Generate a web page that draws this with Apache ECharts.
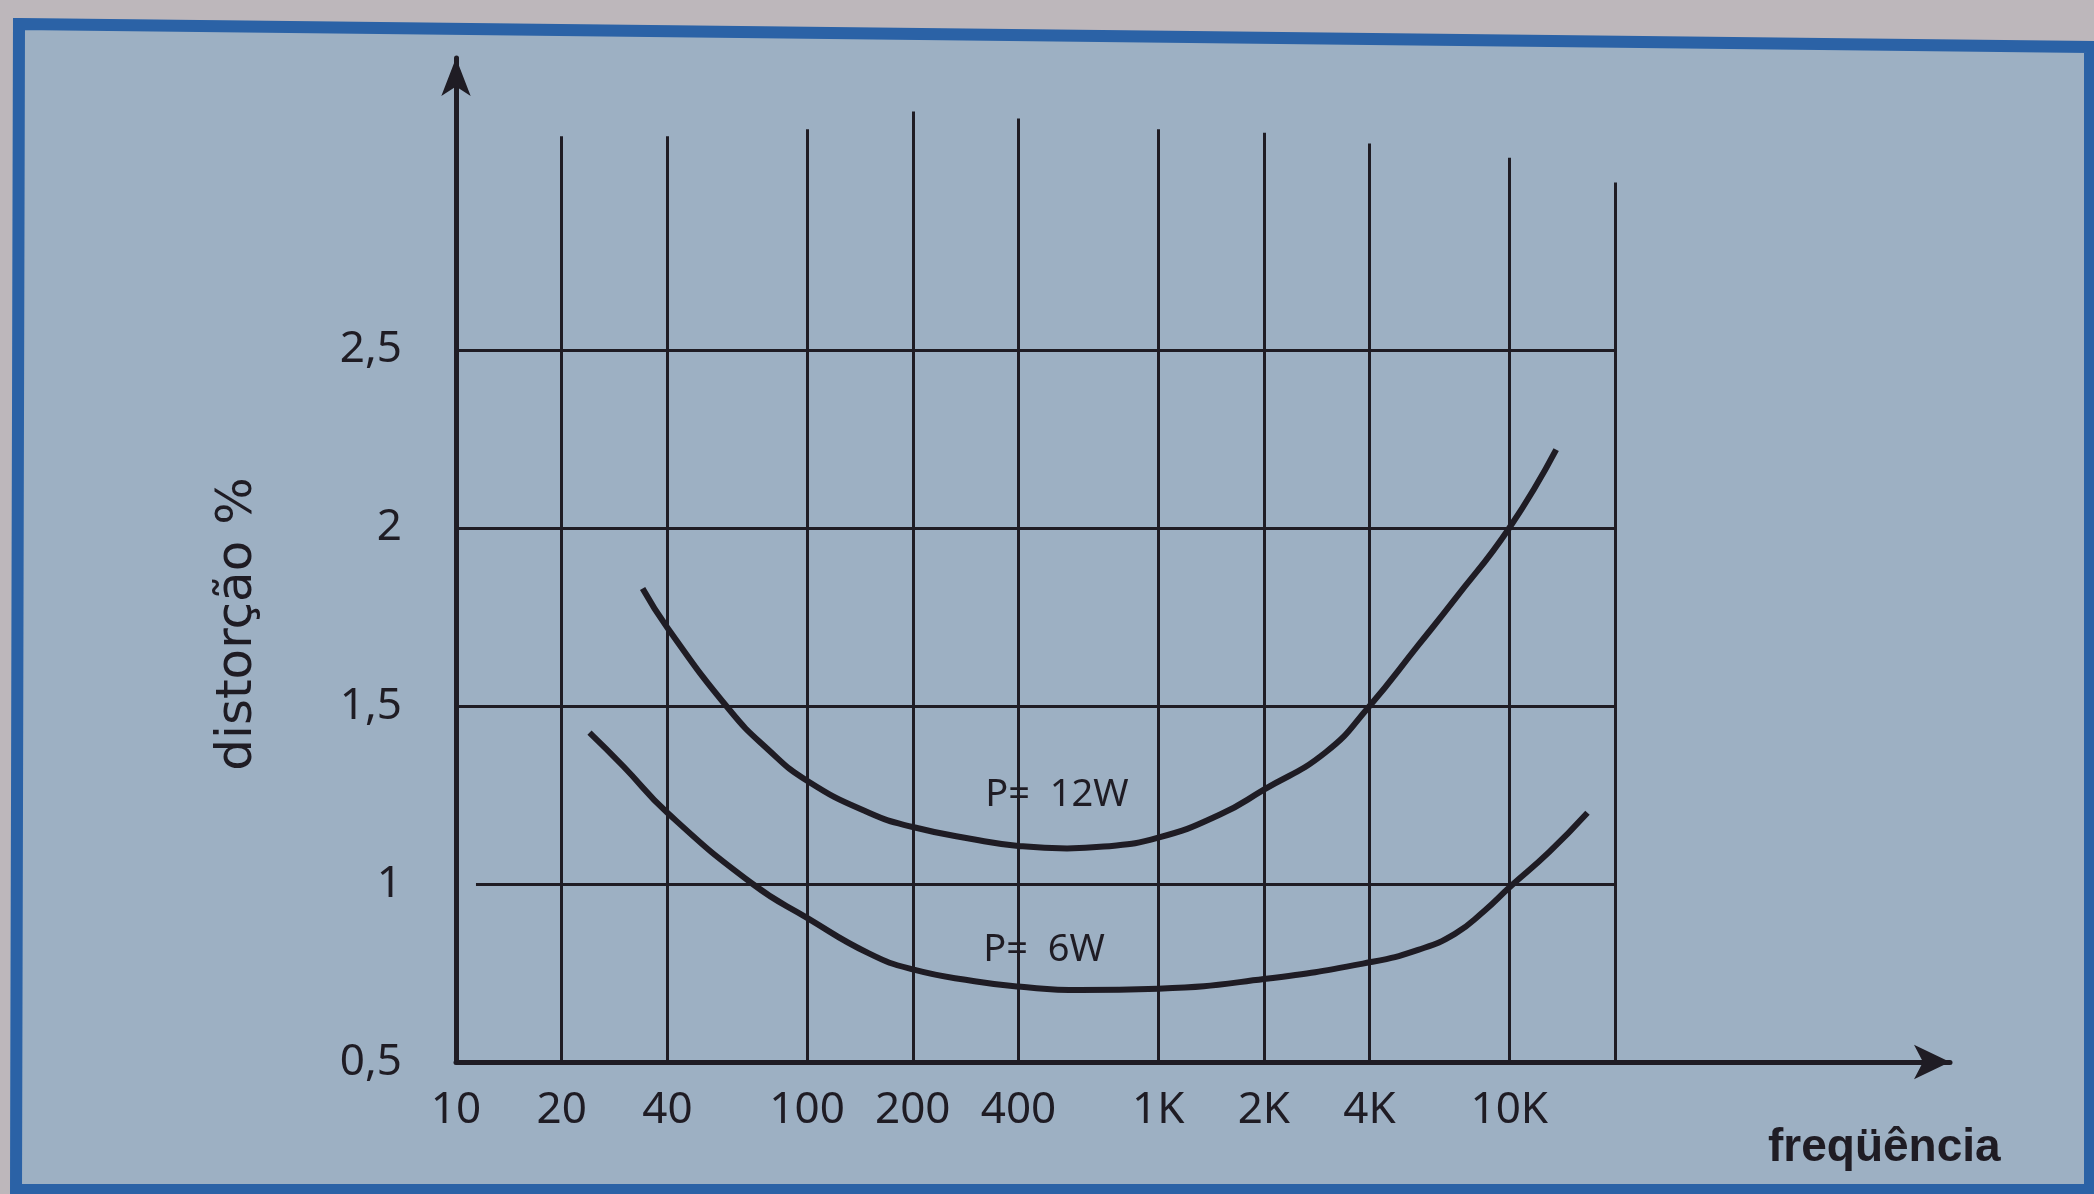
<!DOCTYPE html>
<html>
<head>
<meta charset="utf-8">
<title>distorção x freqüência</title>
<script src="https://cdn.jsdelivr.net/npm/echarts@6.0.0/dist/echarts.min.js"></script>
<style>
  html, body { margin: 0; padding: 0; background: #bdb7bb; }
  #grafico { width: 2094px; height: 1194px; }
</style>
</head>
<body>
<div id="grafico"></div>
<script>
// eixo x: frequências com rótulo (Hz)
const freqTicks = [10, 20, 40, 100, 200, 400, 1000, 2000, 4000, 10000]
const freqLabels = ['10', '20', '40', '100', '200', '400', '1K', '2K', '4K', '10K']
// linhas verticais da grade (a última, 20K, não tem rótulo) e até onde sobem
const vLines = [20, 40, 100, 200, 400, 1000, 2000, 4000, 10000, 20000]
const vLineTops = [3.10, 3.10, 3.12, 3.17, 3.15, 3.12, 3.11, 3.08, 3.04, 2.97]
// eixo y
const distTicks = [0.5, 1, 1.5, 2, 2.5]
const distLabels = ['0,5', '1', '1,5', '2', '2,5']
const hLines = [1, 1.5, 2, 2.5]
const hLineStart = [11.4, 10, 10, 10]

// curvas: frequência (Hz) e distorção (%)
const freqP12 = [34, 40, 60, 77, 100, 150, 200, 300, 400, 550, 700, 1000, 1500, 2000, 3000, 4000, 5500, 7000, 10000, 13600]
const distP12 = [1.83, 1.72, 1.49, 1.38, 1.29, 1.20, 1.16, 1.125, 1.107, 1.10, 1.105, 1.13, 1.195, 1.265, 1.37, 1.50, 1.67, 1.80, 2.00, 2.22]
const freqP6 = [24, 30, 40, 70, 100, 150, 200, 300, 400, 600, 1000, 2000, 4000, 5500, 7000, 8500, 10000, 13000, 16700]
const distP6 = [1.425, 1.33, 1.20, 1.00, 0.905, 0.805, 0.76, 0.727, 0.712, 0.702, 0.706, 0.733, 0.78, 0.815, 0.86, 0.925, 0.99, 1.09, 1.20]

const ink = '#1f1c24'
const fundo = '#9db0c3'

function labelOf(v, ticks, labels) {
    for (let i = 0; i < ticks.length; i++) {
        if (Math.abs(ticks[i] - v) <= ticks[i] * 1e-3) return labels[i]
    }
    return ''
}

// linhas da grade desenhadas como markLine (coordenadas de dados)
let grade = []
for (let i = 0; i < vLines.length; i++) {
    grade.push([{ coord: [vLines[i], 0.5] }, { coord: [vLines[i], vLineTops[i]] }])
}
for (let i = 0; i < hLines.length; i++) {
    grade.push([{ coord: [hLineStart[i], hLines[i]] }, { coord: [20000, hLines[i]] }])
}

let chart = echarts.init(document.getElementById('grafico'))
chart.setOption({
    animation: false,
    backgroundColor: fundo,
    grid: { left: 456, right: 144, top: 58, bottom: 132, outerBoundsMode: 'none' },
    xAxis: {
        type: 'log',
        logBase: 10,
        min: 10,
        max: 180000,
        axisLine: {
            show: true,
            onZero: false,
            lineStyle: { color: ink, width: 5 },
            symbol: ['none', 'arrow'],
            symbolSize: [26, 36]
        },
        axisTick: { show: false },
        minorTick: { show: false },
        splitLine: { show: false },
        minorSplitLine: { show: false },
        axisLabel: {
            customValues: freqTicks,
            formatter: function (v) { return labelOf(v, freqTicks, freqLabels) },
            fontFamily: 'Noto Sans',
            fontSize: 44,
            color: ink,
            margin: 26
        }
    },
    yAxis: {
        type: 'value',
        min: 0.5,
        max: 3.32,
        axisLine: {
            show: true,
            onZero: false,
            lineStyle: { color: ink, width: 5 },
            symbol: ['none', 'arrow'],
            symbolSize: [22, 38]
        },
        axisTick: { show: false },
        splitLine: { show: false },
        axisLabel: {
            customValues: distTicks,
            formatter: function (v) { return labelOf(v, distTicks, distLabels) },
            fontFamily: 'Noto Sans',
            fontSize: 44,
            color: ink,
            margin: 54
        }
    },
    graphic: [
        // moldura azul da figura e a margem da página
        { type: 'polygon', silent: true, shape: { points: [[0, 0], [2094, 0], [2094, 42], [0, 18]] }, style: { fill: '#bdb7bb' } },
        { type: 'polygon', silent: true, shape: { points: [[0, 0], [13, 0], [10, 1194], [0, 1194]] }, style: { fill: '#bdb7bb' } },
        { type: 'polygon', silent: true, shape: { points: [[19, 24], [2090, 47], [2090, 1190], [16, 1190]] }, style: { fill: null, stroke: '#2b62a6', lineWidth: 12 } },
        {
            type: 'text', x: 238, y: 624, rotation: Math.PI / 2, silent: true,
            style: { text: 'distorção %', fontFamily: 'DejaVu Sans', fontSize: 50, fill: ink, align: 'center', verticalAlign: 'middle' }
        },
        {
            type: 'text', x: 1768, y: 1148, silent: true,
            style: { text: 'freqüência', fontFamily: 'Liberation Sans', fontWeight: 'bold', fontSize: 46, fill: ink, align: 'left', verticalAlign: 'middle' }
        }
    ],
    series: [
        {
            name: 'grade',
            type: 'line',
            data: [],
            silent: true,
            markLine: {
                silent: true,
                animation: false,
                symbol: ['none', 'none'],
                label: { show: false },
                emphasis: { disabled: true },
                lineStyle: { color: ink, width: 3, type: 'solid' },
                data: grade
            }
        },
        {
            name: 'P = 12 W',
            type: 'line',
            data: freqP12.map(function (f, i) { return [f, distP12[i]] }),
            smooth: 0.5,
            showSymbol: false,
            silent: true,
            lineStyle: { color: ink, width: 6 },
            markPoint: {
                silent: true,
                symbol: 'circle',
                symbolSize: 0,
                data: [{ coord: [515, 1.25] }],
                label: { show: true, position: 'inside', formatter: 'P=  12W', fontFamily: 'Noto Sans', fontSize: 38, color: ink }
            }
        },
        {
            name: 'P = 6 W',
            type: 'line',
            data: freqP6.map(function (f, i) { return [f, distP6[i]] }),
            smooth: 0.5,
            showSymbol: false,
            silent: true,
            lineStyle: { color: ink, width: 6 },
            markPoint: {
                silent: true,
                symbol: 'circle',
                symbolSize: 0,
                data: [{ coord: [473, 0.813] }],
                label: { show: true, position: 'inside', formatter: 'P=  6W', fontFamily: 'Noto Sans', fontSize: 38, color: ink }
            }
        }
    ]
})
</script>
</body>
</html>
